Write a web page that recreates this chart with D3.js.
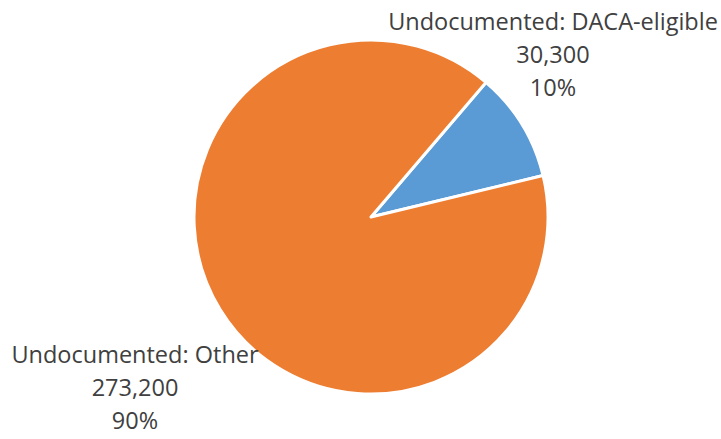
<!DOCTYPE html>
<html><head><meta charset="utf-8">
<script src="https://cdn.jsdelivr.net/npm/d3@7"></script>
<style>body{margin:0;background:#fff;} svg{display:block;}</style>
</head><body>
<svg id="c" width="721" height="439"></svg>
<script>
const categories = ["Undocumented: DACA-eligible", "Undocumented: Other"];
const values = [30300, 273200];
const percentLabels = ["10%", "90%"];
const colors = ["#5B9BD5", "#ED7D31"];

const svg = d3.select("#c");
const cx = 371, cy = 217, r = 177;
const startDeg = 40.5;
const pie = d3.pie().sort(null).value(d => d)
  .startAngle(startDeg * Math.PI / 180)
  .endAngle((startDeg + 360) * Math.PI / 180);
const arcs = pie(values);
const arc = d3.arc().innerRadius(0).outerRadius(r);
const g = svg.append("g").attr("transform", `translate(${cx},${cy})`);
g.selectAll("path").data(arcs).join("path")
  .attr("d", arc)
  .attr("fill", (d, i) => colors[i])
  .attr("stroke", "#fff")
  .attr("stroke-width", 3)
  .attr("stroke-linejoin", "round");

const fmt = d3.format(",");
const labelPos = [{x: 553, y: 30}, {x: 135, y: 363}];
const lineH = 33;
const fontFam = "'Open Sans', sans-serif";
categories.forEach((c, i) => {
  const t = svg.append("text")
    .attr("text-anchor", "middle")
    .attr("font-family", fontFam)
    .attr("font-size", 23.5)
    .attr("fill", "#404040");
  [c, fmt(values[i]), percentLabels[i]].forEach((s, j) => {
    t.append("tspan").attr("x", labelPos[i].x).attr("y", labelPos[i].y + j * lineH).text(s);
  });
});
</script>
</body></html>
